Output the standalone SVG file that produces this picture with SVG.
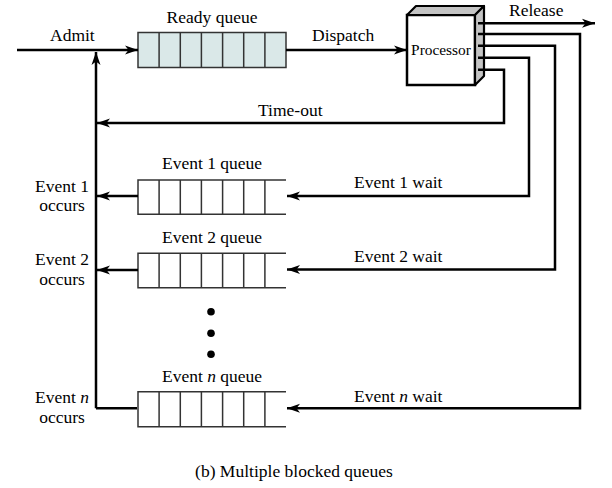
<svg xmlns="http://www.w3.org/2000/svg" width="612" height="488" viewBox="0 0 612 488">
<style>
text{font-family:"Liberation Serif","Times New Roman",serif;font-size:17.5px;fill:#000}
.c{text-anchor:middle}
.conn{fill:none;stroke:#000;stroke-width:2.5}
.q{fill:#fff;stroke:#333;stroke-width:1.5}
.qr{fill:#dae8e8;stroke:#333;stroke-width:1.5}
.div{stroke:#333;stroke-width:1.5}
.it{font-style:italic}
</style>
<defs>
<marker id="ah" markerUnits="userSpaceOnUse" markerWidth="14" markerHeight="10" viewBox="0 0 14 10" refX="13" refY="5" orient="auto">
<path d="M0,0.5 L13,5 L0,9.5 L3.5,5 Z" fill="#000"/>
</marker>
</defs>

<g id="ready-queue">
<rect class="qr" x="138" y="32.5" width="148" height="35"/>
<path class="div" d="M159.1,32.5V67.5M180.3,32.5V67.5M201.4,32.5V67.5M222.6,32.5V67.5M243.7,32.5V67.5M264.9,32.5V67.5"/>
<text class="c" x="212" y="22.5">Ready queue</text>
</g>

<g id="processor">
<rect x="407" y="15" width="68" height="70" fill="#fff" stroke="#000" stroke-width="2.5"/>
<polygon points="407,15 416,6 484,6 475,15" fill="#c4c4c4" stroke="#000" stroke-width="2.2" stroke-linejoin="round"/>
<polygon points="475,15 484,6 484,76 475,85" fill="#c4c4c4" stroke="#000" stroke-width="2.2" stroke-linejoin="round"/>
<text class="c" x="441" y="55" style="font-size:15.4px">Processor</text>
</g>

<g id="event1-queue">
<path class="q" d="M286,180H138V214.3H286"/>
<path class="div" d="M159.1,180V214.3M180.3,180V214.3M201.4,180V214.3M222.6,180V214.3M243.7,180V214.3M264.9,180V214.3"/>
<text class="c" x="212" y="169">Event 1 queue</text>
</g>

<g id="event2-queue">
<path class="q" d="M286,253.3H138V287.7H286"/>
<path class="div" d="M159.1,253.3V287.7M180.3,253.3V287.7M201.4,253.3V287.7M222.6,253.3V287.7M243.7,253.3V287.7M264.9,253.3V287.7"/>
<text class="c" x="212" y="243">Event 2 queue</text>
</g>

<g id="eventn-queue">
<path class="q" d="M286,391.7H138V426.7H286"/>
<path class="div" d="M159.1,391.7V426.7M180.3,391.7V426.7M201.4,391.7V426.7M222.6,391.7V426.7M243.7,391.7V426.7M264.9,391.7V426.7"/>
<text class="c" x="212" y="381.5">Event <tspan class="it">n</tspan> queue</text>
</g>

<g id="ellipsis">
<circle cx="211" cy="311.7" r="3.8"/>
<circle cx="211" cy="333.3" r="3.8"/>
<circle cx="211" cy="354.3" r="3.8"/>
</g>

<g id="connectors">
<path class="conn" d="M17,50H138" marker-end="url(#ah)"/>
<path class="conn" d="M96,408.3V52" marker-end="url(#ah)"/>
<path class="conn" d="M286,50H407" marker-end="url(#ah)"/>
<path class="conn" d="M478,23.3H595" marker-end="url(#ah)"/>
<path class="conn" d="M478,69.7H504V123H97" marker-end="url(#ah)"/>
<path class="conn" d="M478,57.7H529V196H287" marker-end="url(#ah)"/>
<path class="conn" d="M478,45.7H555V269.5H287" marker-end="url(#ah)"/>
<path class="conn" d="M478,34H580V408.3H287" marker-end="url(#ah)"/>
<path class="conn" d="M138,196H97" marker-end="url(#ah)"/>
<path class="conn" d="M138,270H97" marker-end="url(#ah)"/>
<path class="conn" d="M137,408.3H96"/>
</g>

<g id="labels">
<text x="50" y="41">Admit</text>
<text x="312" y="41">Dispatch</text>
<text x="509" y="16">Release</text>
<text x="258" y="115.5">Time-out</text>
<text x="354" y="188.3">Event 1 wait</text>
<text x="354" y="262.3">Event 2 wait</text>
<text x="354" y="401.7">Event <tspan class="it">n</tspan> wait</text>
<text class="c" x="62" y="191.5">Event 1</text>
<text class="c" x="62" y="211">occurs</text>
<text class="c" x="62" y="265">Event 2</text>
<text class="c" x="62" y="285">occurs</text>
<text class="c" x="62" y="403">Event <tspan class="it">n</tspan></text>
<text class="c" x="62" y="423">occurs</text>
<text class="c" x="294" y="477">(b) Multiple blocked queues</text>
</g>
</svg>
